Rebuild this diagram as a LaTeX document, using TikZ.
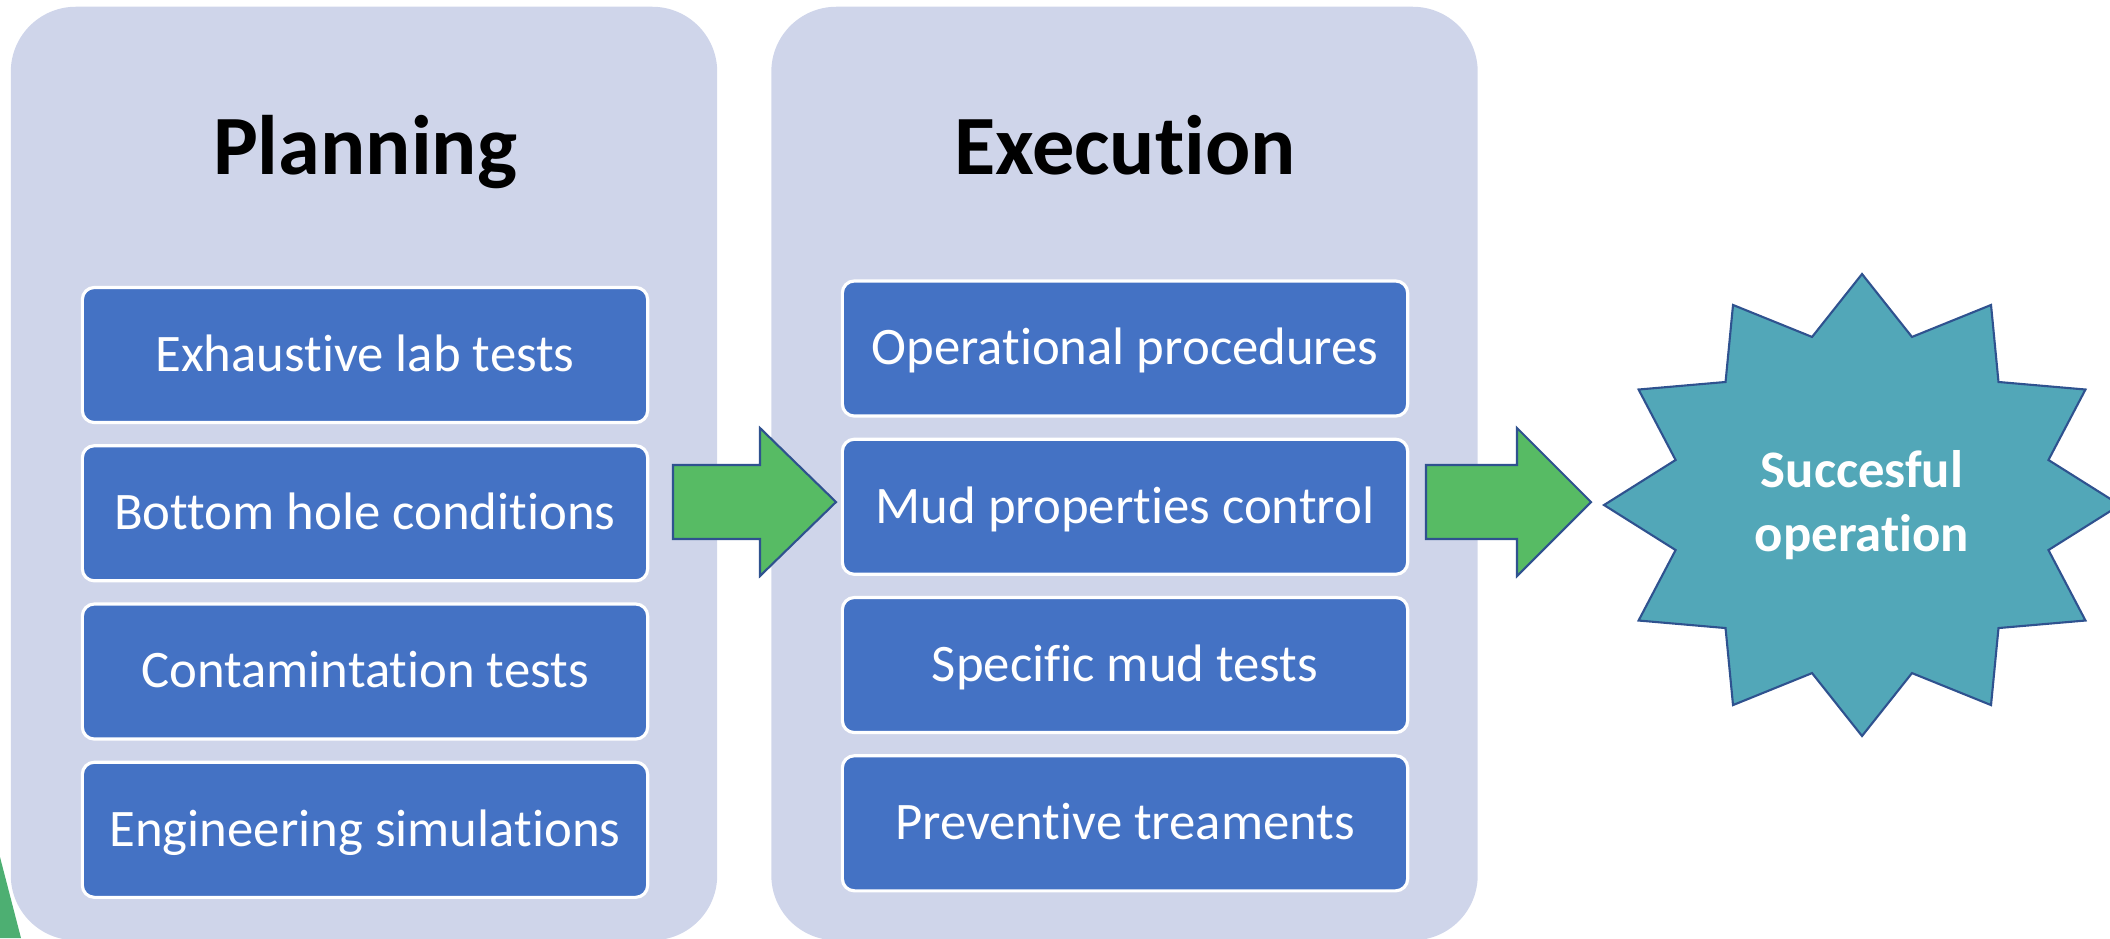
\documentclass[tikz,border=0pt]{standalone}
\usepackage{fontspec}
\setmainfont{Carlito}[Ligatures=NoCommon]
\usetikzlibrary{positioning}

\definecolor{panelbg}{HTML}{CFD5EA}
\definecolor{boxblue}{HTML}{4472C4}
\definecolor{arrowgreen}{HTML}{57BB64}
\definecolor{starteal}{HTML}{52A7B8}
\definecolor{edgeblue}{HTML}{2F528F}
\definecolor{sliver}{HTML}{4DAF72}

\tikzset{
  panel/.style={fill=panelbg, rounded corners=0.65cm, minimum width=7.06cm,
    minimum height=9.33cm, inner sep=0pt},
  panelhead/.style={font=\bfseries\fontsize{24}{29}\selectfont, anchor=base},
  task/.style={fill=boxblue, draw=white, line width=0.9pt, rounded corners=0.12cm,
    minimum width=5.65cm, minimum height=1.35cm, text=white, inner sep=0pt,
    font=\fontsize{15}{18}\selectfont, text height=2.1ex, text depth=0.15ex},
  flowarrow/.style={fill=arrowgreen, draw=edgeblue, line width=0.6pt},
  goalstar/.style={fill=starteal, draw=edgeblue, line width=0.6pt},
  goaltext/.style={text=white, align=center, font=\bfseries\fontsize{15}{18}\selectfont}
}

\begin{document}
\begin{tikzpicture}[x=0.01cm, y=-0.01cm]
\useasboundingbox (0,0) rectangle (2110,938);

% left-over corner of a green shape
\fill[sliver] (0,857) -- (21,938) -- (0,938) -- cycle;

% the two columns
\node[panel] (plan) at (364,473.5) {};
\node[panel] (exec) at (1124.5,473.5) {};
\node[panelhead] (planT) at (365,174) {Planning};
\node[panelhead] (execT) at (1125,174) {Execution};

% planning steps
\node[task] (p1) at (365,355) {Exhaustive lab tests};
\node[task, below=0.2cm of p1] (p2) {Bottom hole conditions};
\node[task, below=0.2cm of p2] (p3) {Contamintation tests};
\node[task, below=0.2cm of p3] (p4) {Engineering simulations};

% execution steps
\node[task] (e1) at (1125,348.5) {Operational procedures};
\node[task, below=0.2cm of e1] (e2) {Mud properties control};
\node[task, below=0.2cm of e2] (e3) {Specific mud tests};
\node[task, below=0.2cm of e3] (e4) {Preventive treaments};

% block arrows
\draw[flowarrow] (673,465) -- (760,465) -- (760,428) -- (836,502) -- (760,576)
  -- (760,539) -- (673,539) -- cycle;
\draw[flowarrow] (1426,465) -- (1517,465) -- (1517,428) -- (1591,502) -- (1517,576)
  -- (1517,539) -- (1426,539) -- cycle;

% goal
\draw[goalstar, shift={(1862,505)}] (0:258 and 231)
  \foreach \a in {0,30,...,330} { -- ({\a+15}:193 and 174) -- ({\a+30}:258 and 231) } -- cycle;
\node[goaltext] (goal) at (1862,505) {Succesful\\operation};
\end{tikzpicture}
\end{document}
